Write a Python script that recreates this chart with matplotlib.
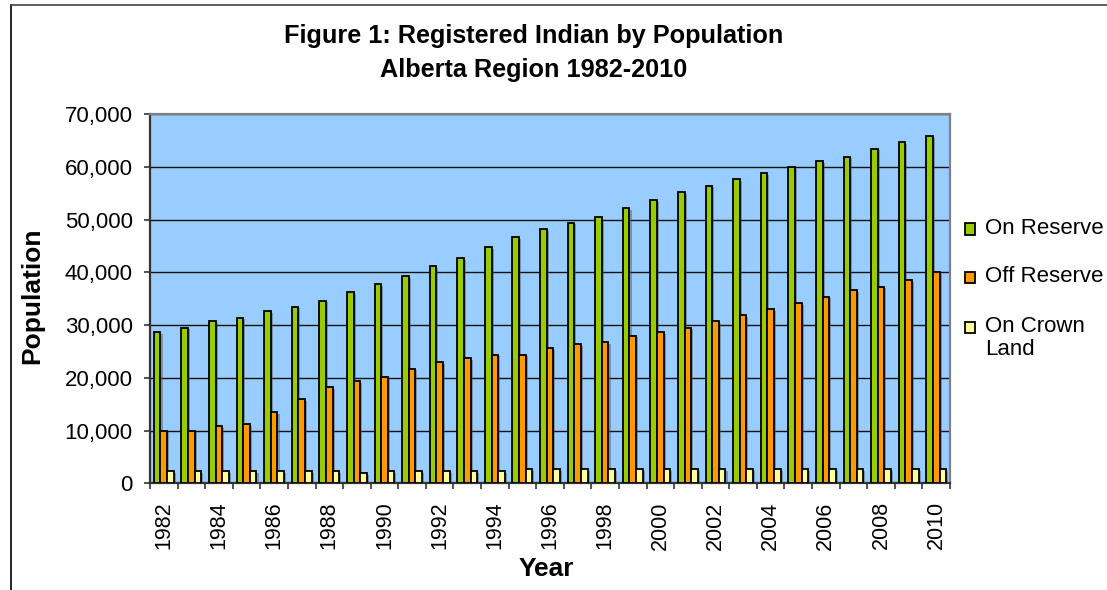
import numpy as np
import matplotlib
matplotlib.use('Agg')
import matplotlib.pyplot as plt
import matplotlib.patheffects as pe
from matplotlib.lines import Line2D
from matplotlib.patches import Rectangle
from matplotlib.ticker import MultipleLocator, FuncFormatter

plt.rcParams['font.family'] = ['Liberation Sans', 'DejaVu Sans']

# data
years = list(range(1982, 2011))
on_reserve = [28700, 29500, 30700, 31400, 32600, 33500, 34600, 36200, 37700, 39200,
              41200, 42700, 44700, 46700, 48200, 49400, 50500, 52100, 53700, 55200,
              56400, 57600, 58800, 59900, 61100, 61900, 63400, 64600, 65800]
off_reserve = [10000, 10000, 10800, 11200, 13500, 15900, 18200, 19400, 20100, 21700,
               22900, 23700, 24400, 24400, 25600, 26400, 26800, 28000, 28700, 29500,
               30700, 31900, 33000, 34200, 35400, 36600, 37300, 38500, 40000]
crown_land = [2250, 2250, 2250, 2250, 2250, 2250, 2250, 1900, 2250, 2250,
              2250, 2250, 2250, 2650, 2650, 2650, 2650, 2650, 2650, 2650,
              2650, 2650, 2650, 2650, 2650, 2650, 2650, 2650, 2650]
series_names = ['On Reserve', 'Off Reserve', 'On Crown\nLand']
colors = ['#99CC00', '#FF9900', '#FFFF99']

W, H = 1107, 590


def fx(px):
    return px / W


def fy(py):
    return 1 - py / H


fig = plt.figure(figsize=(W / 100, H / 100), dpi=100)
ax = fig.add_axes([fx(150), fy(483.3), fx(800), (483.3 - 114) / H])

x = np.arange(len(years))
w = 0.24
shadow = [pe.SimplePatchShadow(offset=(1.5, -1.2), shadow_rgbFace='#4d4d4d', alpha=0.45),
          pe.Normal()]
for k, vals in enumerate([on_reserve, off_reserve, crown_land]):
    ax.bar(x + (k - 1) * w, vals, w, color=colors[k], edgecolor='black',
           linewidth=1.3, path_effects=shadow, zorder=3)

ax.set_xlim(-0.5, len(years) - 0.5)
ax.set_ylim(0, 70000)
ax.set_facecolor('#99CCFF')

ax.yaxis.set_major_locator(MultipleLocator(10000))
ax.yaxis.set_major_formatter(FuncFormatter(lambda v, p: f'{v:,.0f}'))
ax.yaxis.grid(True, color='#111111', linewidth=1.0)
ax.set_axisbelow(True)
ax.tick_params(axis='y', labelsize=16, length=4.5, width=1.2, color='#333333', pad=8)

ax.set_xticks(np.arange(-0.5, len(years), 1))
ax.set_xticklabels([])
ax.set_xticks(x[::2], minor=True)
ax.set_xticklabels([str(y) for y in years[::2]], minor=True, rotation=90, fontsize=15.5)
ax.tick_params(axis='x', which='major', length=4.5, width=1.2, color='#333333')
ax.tick_params(axis='x', which='minor', length=0, pad=13)

for side in ['top', 'right']:
    ax.spines[side].set_color('#808080')
    ax.spines[side].set_linewidth(1.6)
for side in ['left', 'bottom']:
    ax.spines[side].set_color('#333333')
    ax.spines[side].set_linewidth(1.6)

# titles and axis labels
fig.text(fx(534), fy(43.3), 'Figure 1: Registered Indian by Population',
         ha='center', va='baseline', fontsize=18.2, weight='bold')
fig.text(fx(534), fy(76.7), 'Alberta Region 1982-2010',
         ha='center', va='baseline', fontsize=18.2, weight='bold')
fig.text(fx(32), fy(296), 'Population', rotation=90, ha='center', va='center',
         fontsize=19, weight='bold')
fig.text(fx(546), fy(576), 'Year', ha='center', va='baseline', fontsize=19, weight='bold')

# legend, drawn by hand to sit in the narrow right margin
for name, col, yc in zip(series_names, colors, [229, 277, 327]):
    fig.add_artist(Rectangle((fx(965), fy(yc + 5.5)), fx(10), 11 / H,
                             transform=fig.transFigure, facecolor=col,
                             edgecolor='black', linewidth=1.3))
    fig.text(fx(985), fy(yc - 11), name, ha='left', va='top', fontsize=16,
             linespacing=1.15)

# outer chart frame (cut off on the right and bottom)
fig.add_artist(Line2D([fx(11), fx(11)], [0, fy(5)], transform=fig.transFigure,
                      color='black', linewidth=1.2))
fig.add_artist(Line2D([fx(11), 1], [fy(5), fy(5)], transform=fig.transFigure,
                      color='#444444', linewidth=1.2))

fig.savefig('out.png', dpi=100)
